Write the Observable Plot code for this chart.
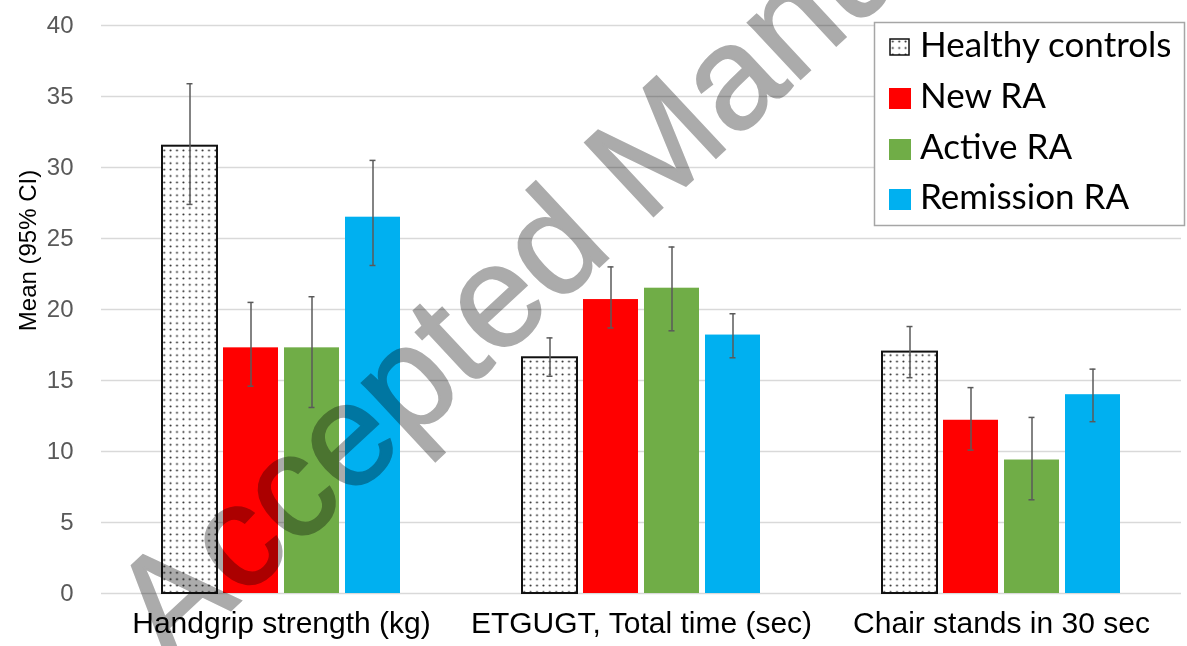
<!DOCTYPE html>
<html><head><meta charset="utf-8">
<script src="https://cdn.jsdelivr.net/npm/d3@7"></script>
<script src="https://cdn.jsdelivr.net/npm/@observablehq/plot@0.6"></script>
<style>
body{margin:0;background:#fff;}
#wrap{position:relative;width:1187px;height:646px;overflow:hidden;background:#fff;}
#wrap > svg{position:absolute;left:0;top:0;}
</style></head><body><div id="wrap"></div>
<script>
// ---- data ----
const groups = ["Handgrip strength (kg)", "ETGUGT, Total time (sec)", "Chair stands in 30 sec"];
const seriesNames = ["Healthy controls", "New RA", "Active RA", "Remission RA"];
const seriesColors = ["url(#dots)", "#ff0000", "#70ad47", "#00b0f0"];

const healthyMean     = [31.5, 16.6, 17.0];
const newRAMean       = [17.3, 20.7, 12.2];
const activeRAMean    = [17.3, 21.5, 9.4];
const remissionRAMean = [26.5, 18.2, 14.0];

const healthyLow      = [27.4, 15.3, 15.2];
const healthyHigh     = [35.9, 18.0, 18.8];
const newRALow        = [14.6, 18.7, 10.1];
const newRAHigh       = [20.5, 23.0, 14.5];
const activeRALow     = [13.1, 18.5, 6.6];
const activeRAHigh    = [20.9, 24.4, 12.4];
const remissionRALow  = [23.1, 16.6, 12.1];
const remissionRAHigh = [30.5, 19.7, 15.8];

const yTicks = [0, 5, 10, 15, 20, 25, 30, 35, 40];
const yTitle = "Mean (95% CI)";
const watermark = "Accepted Manuscript";

// ---- table ----
const means = [healthyMean, newRAMean, activeRAMean, remissionRAMean];
const lows = [healthyLow, newRALow, activeRALow, remissionRALow];
const highs = [healthyHigh, newRAHigh, activeRAHigh, remissionRAHigh];
const data = [];
seriesNames.forEach((s, i) => groups.forEach((g, j) =>
  data.push({group: g, series: s, mean: means[i][j], low: lows[i][j], high: highs[i][j]})));

const errStyle = {stroke: "#5a5a5a", strokeWidth: 1.5};

const chart = Plot.plot({
  width: 1187, height: 646,
  marginLeft: 100, marginRight: 5.5, marginTop: 25, marginBottom: 53,
  style: {fontFamily: "'Liberation Sans', Arial, sans-serif", background: "transparent", color: "black", overflow: "visible"},
  fx: {domain: groups, padding: 0, label: null},
  x: {domain: seriesNames, paddingInner: 0.097, paddingOuter: 0.956, axis: null},
  y: {domain: [0, 40], label: null},
  color: {domain: seriesNames, range: seriesColors},
  marks: [
    Plot.gridY(yTicks, {stroke: "#d9d9d9", strokeOpacity: 1, strokeWidth: 1.5}),
    Plot.axisY(yTicks, {tickSize: 0, tickPadding: 28, fontSize: 24, color: "#595959", label: null}),
    Plot.axisFx({anchor: "bottom", tickSize: 0, tickPadding: 18, fontSize: 30, label: null}),
    Plot.barY(data, {fx: "group", x: "series", y: "mean", fill: "series"}),
    Plot.barY(data.filter(d => d.series === seriesNames[0]),
      {fx: "group", x: "series", y: "mean", fill: "none", stroke: "#111", strokeWidth: 2}),
    Plot.ruleX(data, {fx: "group", x: "series", y1: "low", y2: "high", ...errStyle}),
    Plot.tickY(data, {fx: "group", x: "series", y: "low", inset: 24.5, ...errStyle}),
    Plot.tickY(data, {fx: "group", x: "series", y: "high", inset: 24.5, ...errStyle})
  ]
});

// dotted pattern for healthy controls
const defs = d3.select(chart).insert("defs", ":first-child");
const pat = defs.append("pattern").attr("id", "dots").attr("patternUnits", "userSpaceOnUse")
  .attr("width", 6.4).attr("height", 6.4);
pat.append("rect").attr("width", 6.4).attr("height", 6.4).attr("fill", "white");
pat.append("circle").attr("cx", 3.2).attr("cy", 3.2).attr("r", 1).attr("fill", "#222");

const wrap = document.getElementById("wrap");
wrap.appendChild(chart);

// watermark overlay
const wm = d3.select(wrap).append("svg").attr("width", 1187).attr("height", 646)
  .style("mix-blend-mode", "multiply").style("pointer-events", "none");
wm.append("text").attr("transform", "translate(170,667) rotate(-43)")
  .attr("font-family", "'Liberation Sans', Arial, sans-serif").attr("font-size", 146)
  .attr("fill", "#ababab").attr("stroke", "#ababab").attr("stroke-width", 2)
  .text(watermark);

// legend + y title overlay
const lg = d3.select(wrap).append("svg").attr("width", 1187).attr("height", 646).style("pointer-events", "none");
lg.append("text").attr("transform", "translate(36,250.5) rotate(-90)").attr("text-anchor", "middle")
  .attr("font-family", "'Liberation Sans', Arial, sans-serif").attr("font-size", 24).attr("fill", "black")
  .text(yTitle);
lg.append("rect").attr("x", 874.5).attr("y", 22.5).attr("width", 310).attr("height", 203)
  .attr("fill", "white").attr("stroke", "#a6a6a6").attr("stroke-width", 1.5);
const rowY = [57, 108, 159, 209];
seriesNames.forEach((s, i) => {
  const g = lg.append("g");
  if (i === 0) {
    g.append("rect").attr("x", 890).attr("y", rowY[i] - 9 - 9).attr("width", 19).attr("height", 16)
      .attr("fill", seriesColors[i]).attr("stroke", "#111").attr("stroke-width", 1.5);
  } else {
    g.append("rect").attr("x", 889).attr("y", rowY[i] - 20).attr("width", 22).attr("height", 21)
      .attr("fill", seriesColors[i]);
  }
  g.append("text").attr("x", 920).attr("y", rowY[i]).attr("font-family", "Lato, 'Open Sans', sans-serif")
    .attr("font-size", 35).attr("fill", "black").text(s);
});
</script></body></html>
